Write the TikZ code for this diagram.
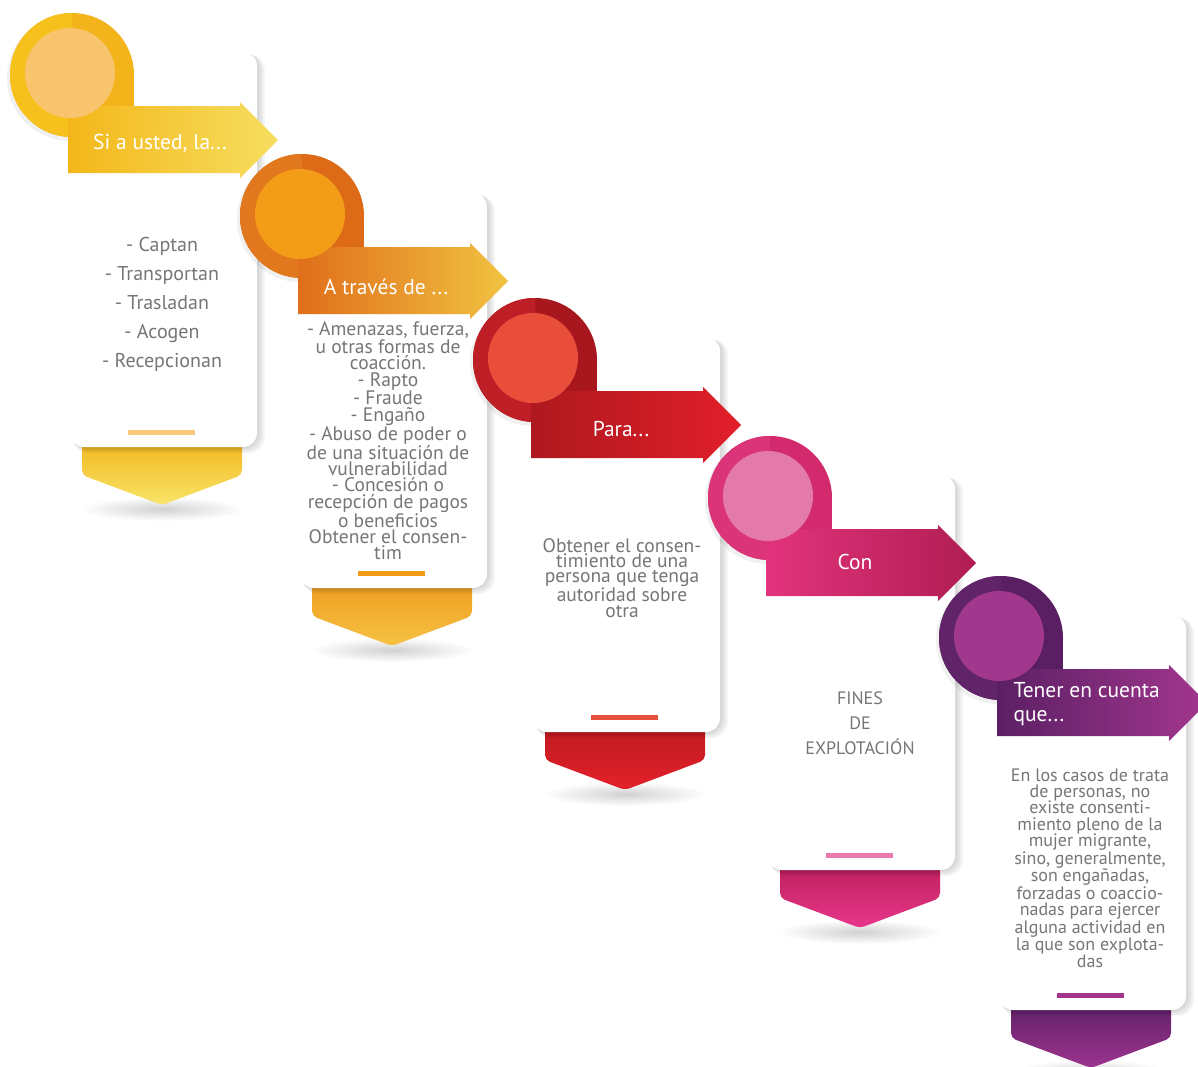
\documentclass[tikz,border=0pt]{standalone}
\usepackage{fontspec}
\setmainfont{PT Sans}
\usetikzlibrary{positioning}
% colours per step: ring (light half, dark half), inner disc, banner, chevron, bar
\definecolor{ringL1}{HTML}{F6C11D}\definecolor{ringD1}{HTML}{F3B31A}\definecolor{disc1}{HTML}{F8C46E}
\definecolor{banL1}{HTML}{F4B71A}\definecolor{banR1}{HTML}{F6DE60}\definecolor{chevT1}{HTML}{F2B31A}
\definecolor{chevB1}{HTML}{F8E468}\definecolor{bar1}{HTML}{F9C97C}
\definecolor{ringL2}{HTML}{E2781D}\definecolor{ringD2}{HTML}{DC6A17}\definecolor{disc2}{HTML}{F39C17}
\definecolor{banL2}{HTML}{E06E1A}\definecolor{banR2}{HTML}{F1C341}\definecolor{chevT2}{HTML}{EE9A1C}
\definecolor{chevB2}{HTML}{F6C244}\definecolor{bar2}{HTML}{F29A12}
\definecolor{ringL3}{HTML}{BE1E26}\definecolor{ringD3}{HTML}{A8171D}\definecolor{disc3}{HTML}{E84E3A}
\definecolor{banL3}{HTML}{AE181E}\definecolor{banR3}{HTML}{E21F2B}\definecolor{chevT3}{HTML}{BB1A20}
\definecolor{chevB3}{HTML}{E4202A}\definecolor{bar3}{HTML}{E8503C}
\definecolor{ringL4}{HTML}{DC3478}\definecolor{ringD4}{HTML}{D22A6C}\definecolor{disc4}{HTML}{E47AAA}
\definecolor{banL4}{HTML}{E2337D}\definecolor{banR4}{HTML}{B01D52}\definecolor{chevT4}{HTML}{B81E58}
\definecolor{chevB4}{HTML}{E8368A}\definecolor{bar4}{HTML}{E87AAE}
\definecolor{ringL5}{HTML}{612468}\definecolor{ringD5}{HTML}{5A1F63}\definecolor{disc5}{HTML}{A2378E}
\definecolor{banL5}{HTML}{5B1F64}\definecolor{banR5}{HTML}{A3378E}\definecolor{chevT5}{HTML}{5A1F64}
\definecolor{chevB5}{HTML}{9E3490}\definecolor{bar5}{HTML}{A3358D}
\definecolor{gristexto}{HTML}{767676}
\tikzstyle{titulo}=[text=white, font=\fontsize{21.5}{24}\selectfont]
\tikzstyle{cuerpo}=[text=gristexto, align=center]
\tikzstyle{tarjeta}=[fill=white, rounded corners=14pt]

\begin{document}
\begin{tikzpicture}[x=1pt, y=-1pt]
    \useasboundingbox (0,0) rectangle (1198,1066);
    \clip (0,0) rectangle (1198,1066);
    % the five steps, each one a little lower and further right
    \foreach \i/\cx/\cy in {1/72/75, 2/302/216, 3/535/360, 4/770/498, 5/1001/638} {
      % soft shadow under the chevron
      \shade[inner color=black!18, outer color=white] (\cx+90,\cy+434) ellipse (82 and 12);
      \shade[top color=chevT\i, bottom color=chevB\i, rounded corners=5pt]
        (\cx+10,\cy+360) -- (\cx+170,\cy+360) -- (\cx+170,\cy+400) -- (\cx+90,\cy+430) -- (\cx+10,\cy+400) -- cycle;
      % card with its shadow
      \foreach \k in {1,...,5}
        \fill[black, opacity=0.035, rounded corners=16pt] (\cx-2+\k*0.5,\cy-23+\k*0.5) rectangle (\cx+185+\k*1.6,\cy+372+\k*1.2);
      \fill[tarjeta] (\cx-2,\cy-23) rectangle (\cx+185,\cy+372);
      \fill[bar\i] (\cx+56,\cy+355) rectangle (\cx+123,\cy+360);
      % ring and banner
      \fill[black, opacity=0.06] (\cx-2,\cy+3) circle (63);
      \fill[ringD\i] (\cx,\cy) circle (62);
      \fill[ringD\i] (\cx,\cy) rectangle (\cx+62,\cy+35);
      \fill[ringL\i] (\cx,\cy-62) arc (270:90:62) -- cycle;
      \shade[left color=banL\i, right color=banR\i]
        (\cx-4,\cy+31) -- (\cx+168,\cy+31) -- (\cx+168,\cy+27) -- (\cx+206,\cy+65)
        -- (\cx+168,\cy+103) -- (\cx+168,\cy+98) -- (\cx-4,\cy+98) -- cycle;
      \fill[disc\i] (\cx-2,\cy-2) circle (45);
    }

    % banner titles
    \node[titulo] (t1) at (160,143) {Si a usted, la...};
    \node[titulo] (t2) at (386,287) {A través de ...};
    \node[titulo] (t3) at (621,429) {Para...};
    \node[titulo] (t4) at (855,562) {Con};
    \node[titulo, align=left, anchor=west] (t5) at (1010,704) {Tener en cuenta\\que...};

    % card texts
    \node[cuerpo, font=\fontsize{20}{29}\selectfont] (b1) at (162,304)
      {- Captan\\- Transportan\\- Trasladan\\- Acogen\\- Recepcionan};
    \node[cuerpo, font=\fontsize{19.5}{16.4}\selectfont] (b2) at (388,441)
      {- Amenazas, fuerza,\\u otras formas de\\coacción.\\- Rapto\\- Fraude\\- Engaño\\- Abuso de poder o\\de una situación de\\vulnerabilidad\\- Concesión o\\recepción de pagos\\o beneficios\\Obtener el consen-\\tim};
    \node[cuerpo, font=\fontsize{19.5}{15.2}\selectfont] (b3) at (622,578)
      {Obtener el consen-\\timiento de una\\persona que tenga\\autoridad sobre\\otra};
    \node[cuerpo, font=\fontsize{18}{25}\selectfont] (b4) at (860,723)
      {FINES\\DE\\EXPLOTACIÓN};
    \node[cuerpo, font=\fontsize{18}{16.4}\selectfont] (b5) at (1090,868)
      {En los casos de trata\\de personas, no\\existe consenti-\\miento pleno de la\\mujer migrante,\\sino, generalmente,\\son engañadas,\\forzadas o coaccio-\\nadas para ejercer\\alguna actividad en\\la que son explota-\\das};
\end{tikzpicture}
\end{document}
